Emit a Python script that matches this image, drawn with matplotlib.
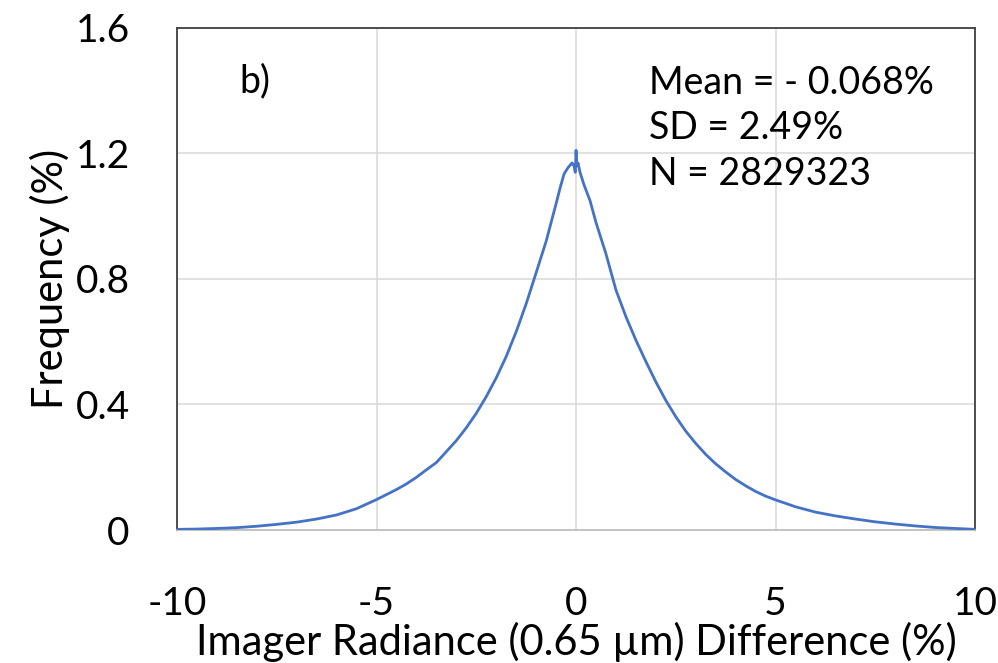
import matplotlib
matplotlib.use("Agg")
import matplotlib.pyplot as plt

plt.rcParams['font.family'] = ['Lato', 'DejaVu Sans']
plt.rcParams['axes.unicode_minus'] = False

# histogram of imager radiance difference
diff = [-10, -9.5, -9, -8.5, -8, -7.5, -7, -6.5, -6, -5.5, -5, -4.75, -4.5, -4.25,
        -4, -3.75, -3.5, -3.25, -3, -2.75, -2.5, -2.25, -2, -1.75, -1.5, -1.25,
        -1, -0.75, -0.5, -0.4, -0.3, -0.2, -0.1, -0.05, -0.02, 0, 0.02, 0.05,
        0.1, 0.2, 0.35, 0.5, 0.75, 1, 1.25, 1.5, 1.75, 2, 2.25, 2.5, 2.75, 3,
        3.25, 3.5, 3.75, 4, 4.25, 4.5, 4.75, 5, 5.5, 6, 6.5, 7, 7.5, 8, 8.5, 9,
        9.5, 10]
freq = [0.002, 0.003, 0.005, 0.0075, 0.012, 0.018, 0.025, 0.035, 0.048, 0.068,
        0.097, 0.113, 0.129, 0.147, 0.168, 0.192, 0.215, 0.25, 0.285, 0.326,
        0.372, 0.425, 0.485, 0.553, 0.632, 0.721, 0.82, 0.92, 1.04, 1.09, 1.135,
        1.155, 1.17, 1.16, 1.14, 1.21, 1.16, 1.17, 1.14, 1.10, 1.05, 0.98, 0.88,
        0.765, 0.68, 0.605, 0.537, 0.472, 0.413, 0.361, 0.315, 0.276, 0.241,
        0.211, 0.185, 0.161, 0.141, 0.123, 0.108, 0.096, 0.074, 0.057, 0.045,
        0.035, 0.026, 0.019, 0.013, 0.008, 0.005, 0.002]

xticks = [-10, -5, 0, 5, 10]
yticks = [0, 0.4, 0.8, 1.2, 1.6]
ytick_labels = ['0', '0.4', '0.8', '1.2', '1.6']

stats = ["Mean = - 0.068%", "SD = 2.49%", "N = 2829323"]

fig = plt.figure(figsize=(9.98, 6.63), dpi=100)
ax = fig.add_axes([0.1774, 0.2006, 0.7996, 0.7572])

ax.plot(diff, freq, color='#4472C4', lw=2.0, zorder=3)

ax.set_xlim(-10, 10)
ax.set_ylim(0, 1.6)
ax.set_xticks(xticks)
ax.set_yticks(yticks)
ax.set_yticklabels(ytick_labels)
ax.grid(True, color='#d9d9d9', lw=1.1)
ax.set_axisbelow(True)
ax.tick_params(length=0, labelsize=28)
ax.tick_params(axis='x', pad=40)
ax.tick_params(axis='y', pad=34)

for side in ['top', 'left', 'right']:
    ax.spines[side].set_color('#404040')
    ax.spines[side].set_linewidth(1.3)
ax.spines['bottom'].set_color('#bfbfbf')
ax.spines['bottom'].set_linewidth(1.3)

ax.set_xlabel('Imager Radiance (0.65 µm) Difference (%)', fontsize=30, labelpad=0)
ax.set_ylabel('Frequency (%)', fontsize=30, labelpad=4)

ax.text(0.098, 0.893, 'b)', transform=ax.transAxes, fontsize=27,
        ha='center', va='center')
for i, s in enumerate(stats):
    ax.text(0.592, 0.89 - i * 0.09, s, transform=ax.transAxes, fontsize=27,
            ha='left', va='center')

fig.savefig('out.png', dpi=100)
